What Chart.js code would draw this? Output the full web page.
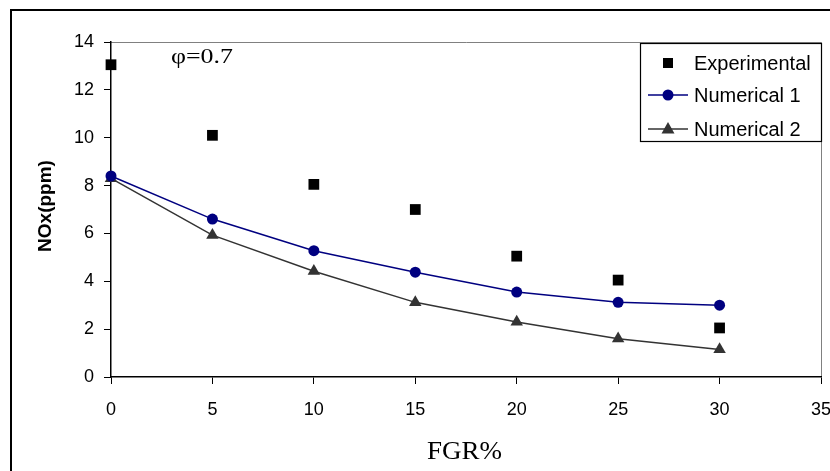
<!DOCTYPE html>
<html>
<head>
<meta charset="utf-8">
<script src="https://cdn.jsdelivr.net/npm/chart.js@4.4.0/dist/chart.umd.min.js"></script>
<style>
html,body{margin:0;padding:0;background:#fff;}
#wrap{width:830px;height:471px;}
</style>
</head>
<body>
<div id="wrap"><canvas id="c" width="830" height="471"></canvas></div>
<script>
const fgr = [0, 5, 10, 15, 20, 25, 30];
const experimental = [13.05, 10.1, 8.05, 7.0, 5.05, 4.05, 2.05];
const numerical1 = [8.4, 6.6, 5.28, 4.38, 3.55, 3.12, 3.0];
const numerical2 = [8.3, 5.93, 4.42, 3.12, 2.3, 1.6, 1.15];
const xTicks = [0, 5, 10, 15, 20, 25, 30, 35];
const yTicks = [0, 2, 4, 6, 8, 10, 12, 14];
const seriesNames = ['Experimental', 'Numerical 1', 'Numerical 2'];

const pts = (ys) => fgr.map((x, i) => ({x: x, y: ys[i]}));

function fitText(ctx, txt, x, y, targetW, align) {
  const w = ctx.measureText(txt).width;
  const k = targetW / w;
  ctx.save();
  ctx.translate(x, y);
  ctx.scale(k, 1);
  ctx.textAlign = align;
  ctx.fillText(txt, 0, 0);
  ctx.restore();
}

const frame = {
  id: 'frame',
  beforeDraw(chart) {
    const ctx = chart.ctx;
    ctx.save();
    ctx.fillStyle = '#fff';
    ctx.fillRect(0, 0, chart.width, chart.height);
    ctx.strokeStyle = '#000';
    ctx.lineWidth = 2;
    ctx.strokeRect(11, 10, 1000, 1000);
    const a = chart.chartArea;
    ctx.strokeStyle = '#808080';
    ctx.lineWidth = 1;
    ctx.beginPath();
    ctx.moveTo(a.left, a.top + 0.5);
    ctx.lineTo(a.right + 0.5, a.top + 0.5);
    ctx.lineTo(a.right + 0.5, a.bottom);
    ctx.stroke();
    ctx.restore();
  },
  afterDraw(chart) {
    const ctx = chart.ctx;
    const a = chart.chartArea;
    ctx.save();
    ctx.fillStyle = '#000';
    ctx.textBaseline = 'alphabetic';
    ctx.font = '22px "Liberation Serif", serif';
    fitText(ctx, '\u03C6=0.7', a.left + 60, a.top + 21, 62, 'left');
    ctx.font = '25px "Liberation Serif", serif';
    fitText(ctx, 'FGR%', (a.left + a.right) / 2 - 1.5, 459, 75, 'center');
    ctx.save();
    ctx.translate(51, 206);
    ctx.rotate(-Math.PI / 2);
    ctx.font = 'bold 19px "Liberation Sans", Arial, sans-serif';
    ctx.textAlign = 'center';
    ctx.fillText('NOx(ppm)', 0, 0);
    ctx.restore();
    // legend
    const lx = a.right - 181, ly = a.top + 1, lw = 181, lh = 98;
    ctx.fillStyle = '#fff';
    ctx.fillRect(lx, ly, lw, lh);
    ctx.strokeStyle = '#000';
    ctx.lineWidth = 1.2;
    ctx.strokeRect(lx + 0.5, ly + 0.5, lw, lh);
    const rows = [ly + 20, ly + 52, ly + 86];
    const sx = lx + 28;
    ctx.font = '20px "Liberation Sans", Arial, sans-serif';
    ctx.textAlign = 'left';
    ctx.textBaseline = 'middle';
    ctx.fillStyle = '#000';
    ctx.fillRect(sx - 5, rows[0] - 5, 10, 10);
    ctx.fillText(seriesNames[0], lx + 54, rows[0] + 1);
    ctx.strokeStyle = '#000080';
    ctx.lineWidth = 1.5;
    ctx.beginPath(); ctx.moveTo(lx + 8, rows[1]); ctx.lineTo(lx + 48, rows[1]); ctx.stroke();
    ctx.fillStyle = '#000080';
    ctx.beginPath(); ctx.arc(sx, rows[1], 5.5, 0, Math.PI * 2); ctx.fill();
    ctx.fillStyle = '#000';
    ctx.fillText(seriesNames[1], lx + 54, rows[1] + 1);
    ctx.strokeStyle = '#333';
    ctx.beginPath(); ctx.moveTo(lx + 8, rows[2]); ctx.lineTo(lx + 48, rows[2]); ctx.stroke();
    ctx.fillStyle = '#333';
    ctx.beginPath();
    ctx.moveTo(sx, rows[2] - 7); ctx.lineTo(sx + 6.5, rows[2] + 4.5); ctx.lineTo(sx - 6.5, rows[2] + 4.5); ctx.closePath(); ctx.fill();
    ctx.fillStyle = '#000';
    ctx.fillText(seriesNames[2], lx + 54, rows[2] + 1);
    ctx.restore();
  }
};

new Chart(document.getElementById('c'), {
  type: 'scatter',
  data: {
    datasets: [
      {label: seriesNames[0], data: pts(experimental), showLine: false, pointStyle: 'rect', pointRadius: 7.6, backgroundColor: '#000', borderColor: '#000', borderWidth: 0, clip: false},
      {label: seriesNames[1], data: pts(numerical1), showLine: true, pointStyle: 'circle', pointRadius: 5.5, backgroundColor: '#000080', borderColor: '#000080', borderWidth: 1.5, pointBorderWidth: 0, tension: 0, clip: false},
      {label: seriesNames[2], data: pts(numerical2), showLine: true, pointStyle: 'triangle', pointRadius: 7.2, backgroundColor: '#333', borderColor: '#333', borderWidth: 1.5, pointBorderWidth: 0, tension: 0, clip: false}
    ]
  },
  options: {
    responsive: false,
    animation: false,
    devicePixelRatio: 1,
    layout: {padding: {left: 0, top: 42, right: 9, bottom: 0}},
    plugins: {legend: {display: false}, tooltip: {enabled: false}},
    scales: {
      x: {
        type: 'linear', min: 0, max: 35,
        afterBuildTicks: (s) => { s.ticks = xTicks.map(v => ({value: v})); },
        afterFit: (s) => { s.height = 94; s.paddingLeft = 0; s.paddingRight = 0; },
        grid: {display: true, drawOnChartArea: false, drawTicks: true, tickLength: 7, tickColor: '#000', tickWidth: 1},
        border: {display: true, color: '#000', width: 1.5},
        ticks: {color: '#000', font: {family: '"Liberation Sans", Arial, sans-serif', size: 18}, padding: 15, maxRotation: 0, autoSkip: false}
      },
      y: {
        type: 'linear', min: 0, max: 14,
        afterBuildTicks: (s) => { s.ticks = yTicks.map(v => ({value: v})); },
        afterFit: (s) => { s.width = 111; s.paddingTop = 0; s.paddingBottom = 0; },
        grid: {display: true, drawOnChartArea: false, drawTicks: true, tickLength: 7, tickColor: '#000', tickWidth: 1},
        border: {display: true, color: '#000', width: 1.5},
        ticks: {color: '#000', font: {family: '"Liberation Sans", Arial, sans-serif', size: 18}, padding: 10, autoSkip: false}
      }
    }
  },
  plugins: [frame]
});
</script>
</body>
</html>
